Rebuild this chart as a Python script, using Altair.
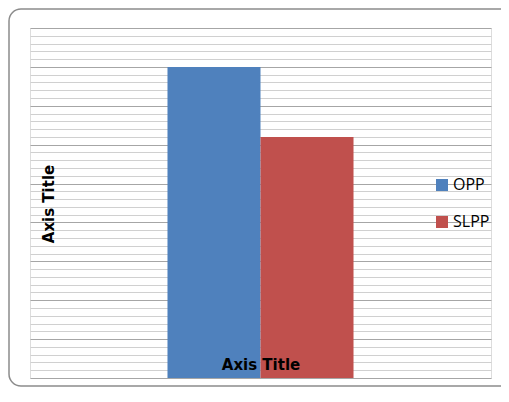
import altair as alt
import pandas as pd

group = ["Group"]
series = ["OPP", "SLPP"]
values = [40, 31]
colors = ["#4f81bd", "#c0504d"]
grid_values = list(range(0, 46))

df = pd.DataFrame({"group": group * len(series), "series": series, "value": values})

FONT = "Open Sans"
TFONT = "DejaVu Sans"

bars = alt.Chart(df).mark_bar().encode(
    x=alt.X(
        "group:N",
        scale=alt.Scale(paddingInner=0, paddingOuter=0.739),
        axis=alt.Axis(
            labels=False, ticks=False, domain=False, grid=False,
            title="Axis Title", titleFont=TFONT, titleFontSize=15,
            titleFontWeight="bold", titleColor="#000000",
            titleX=230.5, titleY=-9, titleBaseline="alphabetic",
            titleAlign="center", zindex=1,
        ),
    ),
    xOffset=alt.XOffset("series:N", sort=series,
                        scale=alt.Scale(paddingInner=0, paddingOuter=0)),
    y=alt.Y(
        "value:Q",
        scale=alt.Scale(domain=[0, 45], nice=False),
        axis=alt.Axis(
            labels=False, ticks=False, domain=False, grid=True,
            values=grid_values,
            gridColor={"condition": {"test": "datum.value % 5 === 0", "value": "#a6a6a6"},
                       "value": "#d0d0d0"},
            gridWidth=1,
            title="Axis Title", titleFont=TFONT, titleFontSize=15,
            titleFontWeight="bold", titleColor="#000000",
            titleX=23, titleY=175.5, titleAngle=-90,
            titleBaseline="alphabetic", titleAlign="center",
        ),
    ),
    color=alt.Color(
        "series:N",
        scale=alt.Scale(domain=series, range=colors),
        legend=alt.Legend(
            title=None, orient="none", legendX=404, legendY=149,
            symbolType="square", symbolSize=144, symbolStrokeWidth=0,
            labelFont=FONT, labelFontSize=16, labelColor="#000000",
            rowPadding=21, labelOffset=3,
        ),
    ),
)

border = alt.Chart(df).mark_rect(
    fill=None, stroke="#8c8c8c", strokeWidth=1.5, cornerRadius=12, clip=False
).encode(
    x=alt.value(-21), x2=alt.value(560), y=alt.value(-19), y2=alt.value(358)
).transform_filter("datum.series === 'OPP'")

chart = alt.layer(border, bars).properties(
    width=461, height=350,
    padding={"left": 22, "top": 20, "right": 10, "bottom": 10},
    autosize=alt.AutoSizeParams(type="none"),
).configure_view(stroke=None).configure(background="white")

chart.save("out.html", embed_options={"renderer": "svg", "actions": False})
